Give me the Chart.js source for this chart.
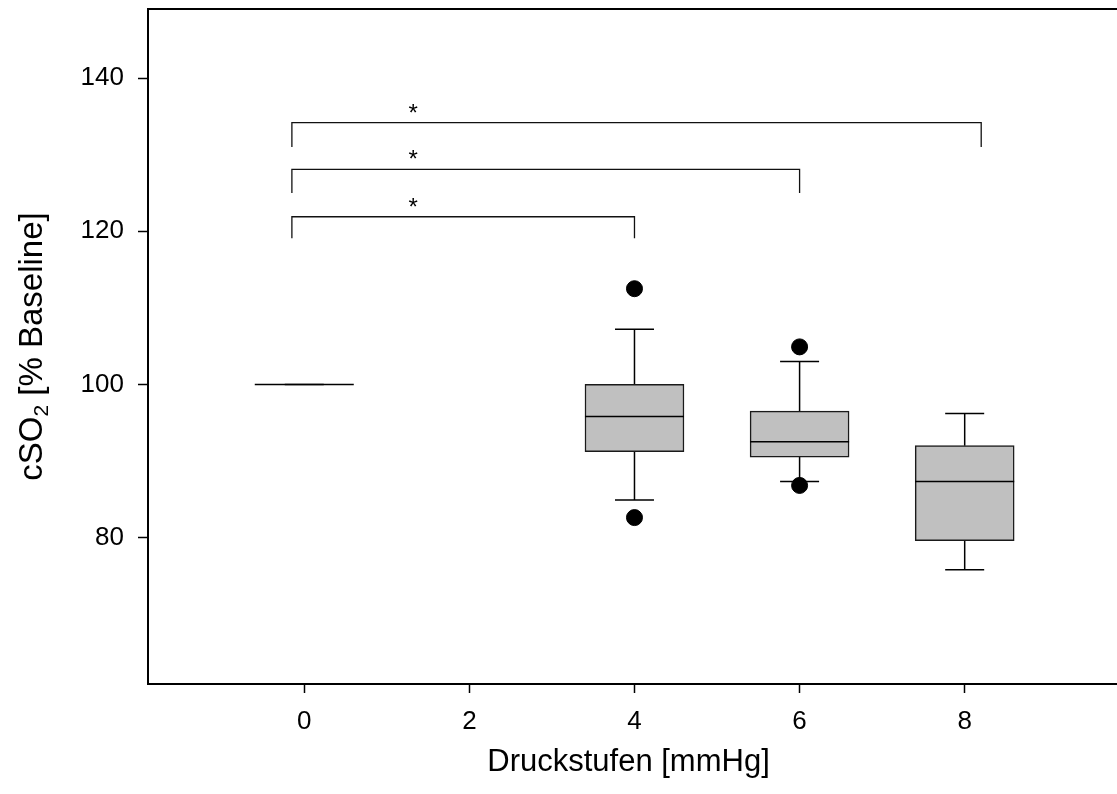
<!DOCTYPE html>
<html>
<head>
<meta charset="utf-8">
<title>cSO2 nach Druckstufen</title>
<script src="https://cdn.jsdelivr.net/npm/chart.js@4/dist/chart.umd.min.js"></script>
<style>
  html, body { margin: 0; padding: 0; background: #fff; }
  #wrap { width: 1117px; height: 794px; }
</style>
</head>
<body>
<div id="wrap"><canvas id="chart" width="1117" height="794"></canvas></div>
<script>
// Pressure levels (mmHg) and box statistics of cSO2 (% of baseline)
const pressureLevels = [0, 4, 6, 8];
const lowerQuartile  = [100, 91.2, 90.5, 79.6];
const medianValue    = [100, 95.8, 92.5, 87.3];
const upperQuartile  = [100, 100.0, 96.5, 92.0];
const whiskerLow     = [100, 84.9, 87.3, 75.8];
const whiskerHigh    = [100, 107.2, 103.0, 96.2];

// Single values beyond the whiskers
const outlierLevel = [4, 4, 6, 6];
const outlierValue = [112.5, 82.6, 104.9, 86.8];

// Significance brackets against 0 mmHg
const bracketFrom  = [-0.15, -0.15, -0.15];
const bracketTo    = [4, 6, 8.2];
const bracketTop   = [121.9, 128.1, 134.2];
const bracketFoot  = [119.1, 125.0, 131.0];
const bracketLabel = ['*', '*', '*'];
const bracketLabelX = 1.32;

// Axis ticks and titles
const xTickValues = [0, 2, 4, 6, 8];
const yTickValues = [80, 100, 120, 140];
const xTitle = 'Druckstufen [mmHg]';
const yTitleMain = 'cSO';
const yTitleSub = '2';
const yTitleRest = ' [% Baseline]';

const FONT = '"Liberation Sans", Arial, sans-serif';
const INK = '#000';

const boxData = pressureLevels.map((x, i) => ({ x: x, y: [lowerQuartile[i], upperQuartile[i]] }));
const outlierData = outlierLevel.map((x, i) => ({ x: x, y: outlierValue[i] }));
const bracketSets = bracketFrom.map((x0, i) => ({
  type: 'line',
  data: [
    { x: x0, y: bracketFoot[i] },
    { x: x0, y: bracketTop[i] },
    { x: bracketTo[i], y: bracketTop[i] },
    { x: bracketTo[i], y: bracketFoot[i] }
  ],
  borderColor: '#111',
  borderWidth: 1.3,
  pointRadius: 0,
  tension: 0,
  fill: false,
  order: 3
}));

// Whiskers under the boxes, medians and star labels on top
const boxExtras = {
  id: 'boxExtras',
  beforeDatasetsDraw(chart) {
    const meta = chart.getDatasetMeta(0);
    const y = chart.scales.y;
    const ctx = chart.ctx;
    ctx.save();
    ctx.strokeStyle = INK;
    ctx.lineWidth = 1.5;
    meta.data.forEach((bar, i) => {
      const cx = bar.x;
      const half = bar.width * 0.197;
      const yHi = y.getPixelForValue(whiskerHigh[i]);
      const yLo = y.getPixelForValue(whiskerLow[i]);
      const yQ3 = y.getPixelForValue(upperQuartile[i]);
      const yQ1 = y.getPixelForValue(lowerQuartile[i]);
      ctx.beginPath();
      ctx.moveTo(cx, yQ3); ctx.lineTo(cx, yHi);
      ctx.moveTo(cx - half, yHi); ctx.lineTo(cx + half, yHi);
      ctx.moveTo(cx, yQ1); ctx.lineTo(cx, yLo);
      ctx.moveTo(cx - half, yLo); ctx.lineTo(cx + half, yLo);
      ctx.stroke();
    });
    ctx.restore();
  },
  afterDatasetsDraw(chart) {
    const meta = chart.getDatasetMeta(0);
    const x = chart.scales.x;
    const y = chart.scales.y;
    const ctx = chart.ctx;
    ctx.save();
    ctx.strokeStyle = INK;
    ctx.lineWidth = 1.5;
    meta.data.forEach((bar, i) => {
      const ym = y.getPixelForValue(medianValue[i]);
      ctx.beginPath();
      ctx.moveTo(bar.x - bar.width / 2, ym);
      ctx.lineTo(bar.x + bar.width / 2, ym);
      ctx.stroke();
    });
    ctx.fillStyle = INK;
    ctx.font = '24px ' + FONT;
    ctx.textAlign = 'center';
    ctx.textBaseline = 'alphabetic';
    bracketLabel.forEach((s, i) => {
      ctx.fillText(s, x.getPixelForValue(bracketLabelX), y.getPixelForValue(bracketTop[i]) - 2);
    });
    ctx.restore();
  }
};

// Top frame line and axis titles
const frameAndTitles = {
  id: 'frameAndTitles',
  afterDraw(chart) {
    const a = chart.chartArea;
    const ctx = chart.ctx;
    ctx.save();
    ctx.strokeStyle = INK;
    ctx.lineWidth = 2;
    ctx.beginPath();
    ctx.moveTo(a.left - 1, a.top);
    ctx.lineTo(chart.width, a.top);
    ctx.stroke();

    ctx.fillStyle = INK;
    ctx.textBaseline = 'middle';
    ctx.textAlign = 'center';
    ctx.font = '31px ' + FONT;
    ctx.fillText(xTitle, (a.left + a.right) / 2 - 4, 762);

    // rotated y title with subscript
    const big = '33px ' + FONT;
    const small = '21px ' + FONT;
    ctx.translate(30, (a.top + a.bottom) / 2);
    ctx.rotate(-Math.PI / 2);
    ctx.textAlign = 'left';
    ctx.textBaseline = 'alphabetic';
    ctx.font = big;
    const w1 = ctx.measureText(yTitleMain).width;
    const w3 = ctx.measureText(yTitleRest).width;
    ctx.font = small;
    const w2 = ctx.measureText(yTitleSub).width;
    let px = -(w1 + w2 + w3) / 2;
    const base = 12;
    ctx.font = big;
    ctx.fillText(yTitleMain, px, base);
    px += w1;
    ctx.font = small;
    ctx.fillText(yTitleSub, px, base + 6);
    px += w2;
    ctx.font = big;
    ctx.fillText(yTitleRest, px, base);
    ctx.restore();
  }
};

new Chart(document.getElementById('chart'), {
  type: 'bar',
  data: {
    datasets: [
      {
        type: 'bar',
        data: boxData,
        backgroundColor: '#c0c0c0',
        borderColor: '#1a1a1a',
        borderWidth: 1.5,
        borderSkipped: false,
        barThickness: 99,
        order: 2
      },
      {
        type: 'scatter',
        data: outlierData,
        backgroundColor: INK,
        borderColor: INK,
        pointRadius: 8,
        pointHoverRadius: 8,
        order: 1
      },
      ...bracketSets
    ]
  },
  options: {
    responsive: false,
    animation: false,
    events: [],
    layout: { autoPadding: false, padding: { top: 9, right: 0, bottom: 0, left: 0 } },
    plugins: {
      legend: { display: false },
      tooltip: { enabled: false }
    },
    scales: {
      x: {
        type: 'linear',
        min: -1.893,
        max: 9.845,
        offset: false,
        afterBuildTicks(scale) { scale.ticks = xTickValues.map(v => ({ value: v })); },
        afterFit(scale) {
          scale.height = 110;
          scale.paddingLeft = 0;
          scale.paddingRight = 0;
        },
        ticks: {
          color: INK,
          font: { family: FONT, size: 26 },
          padding: 13,
          maxRotation: 0,
          autoSkip: false
        },
        grid: {
          display: true,
          offset: false,
          drawOnChartArea: false,
          drawTicks: true,
          tickLength: 9,
          tickColor: INK,
          tickWidth: 1.5
        },
        border: { display: true, color: INK, width: 2 }
      },
      y: {
        type: 'linear',
        min: 60.86,
        max: 149.04,
        afterBuildTicks(scale) { scale.ticks = yTickValues.map(v => ({ value: v })); },
        afterFit(scale) {
          scale.width = 148;
          scale.paddingTop = 0;
          scale.paddingBottom = 0;
        },
        ticks: {
          color: INK,
          font: { family: FONT, size: 26 },
          padding: 14,
          autoSkip: false
        },
        grid: {
          display: true,
          drawOnChartArea: false,
          drawTicks: true,
          tickLength: 10,
          tickColor: INK,
          tickWidth: 1.5
        },
        border: { display: true, color: INK, width: 2 }
      }
    }
  },
  plugins: [boxExtras, frameAndTitles]
});
</script>
</body>
</html>
